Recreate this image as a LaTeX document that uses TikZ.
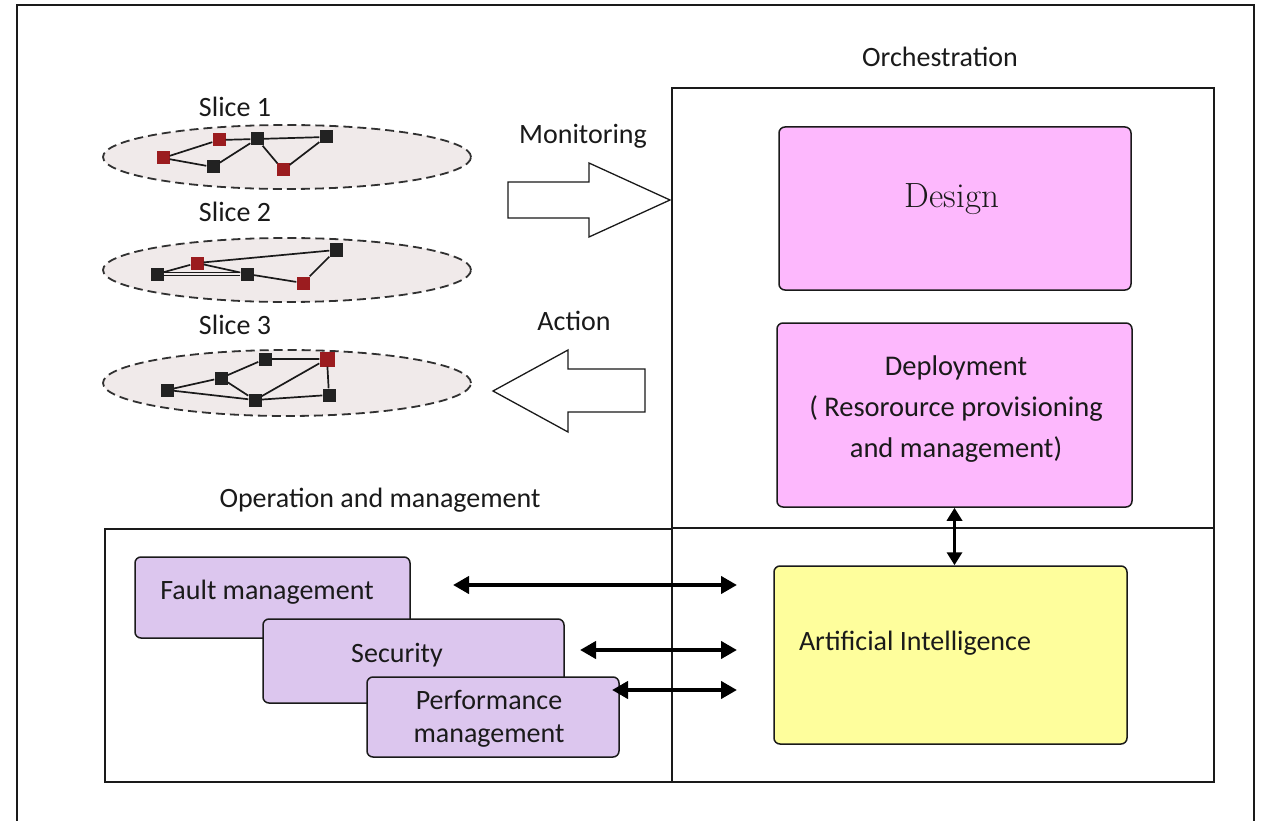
\documentclass[tikz,border=0pt]{standalone}
\usepackage{fontspec}
\newfontfamily\calfont{Carlito}
\usetikzlibrary{arrows.meta,shapes.geometric}
\definecolor{pinkbox}{HTML}{FDB8FD}
\definecolor{yelbox}{HTML}{FEFE9C}
\definecolor{lavbox}{HTML}{DCC6EE}
\definecolor{slicefill}{HTML}{F0EAEA}
\definecolor{redsq}{HTML}{9B1C1F}
\definecolor{blksq}{HTML}{222222}
\definecolor{ink}{HTML}{1A1A1A}
\begin{document}
\begin{tikzpicture}[x=1pt,y=-1pt,
  frame/.style={draw=ink, line width=1.7pt},
  box/.style={draw=ink, line width=1.5pt, rounded corners=6pt, inner sep=0pt},
  lbl/.style={font=\calfont\fontsize{28}{40}\selectfont, text=ink, align=center, inner sep=0pt},
  sliceell/.style={ellipse, draw=ink!90, dash pattern=on 9pt off 5pt, line width=1.8pt, fill=slicefill, inner sep=0pt},
  sq/.style={rectangle, minimum size=13pt, inner sep=0pt},
  rsq/.style={sq, fill=redsq},
  bsq/.style={sq, fill=blksq},
  edge/.style={draw=ink, line width=1.7pt},
  bigarrow/.style={draw=ink, line width=1.3pt, fill=white, line join=miter},
  dbl/.style={draw=black, line width=4pt, {Triangle[length=16pt,width=17pt]}-{Triangle[length=16pt,width=17pt]}}
]
\useasboundingbox (0,0) rectangle (1261,821);
\clip (0,0) rectangle (1261,821);
\fill[white] (0,0) rectangle (1261,821);
% outer frame
\draw[frame] (17,840) -- (17,5) -- (1254,5) -- (1254,840);

% orchestration and operation areas
\node[frame, rectangle, minimum width=542pt, minimum height=694pt, inner sep=0pt] (orch) at (943,435) {};
\node[frame, rectangle, minimum width=567pt, minimum height=253pt, inner sep=0pt] (oper) at (388.5,655.5) {};
\draw[frame] (oper.north east) -- (orch.east |- oper.north);

\node[lbl] (orchlbl) at (940,57) {Orchestration};
\node[lbl] (operlbl) at (380,500) {Operation and management};

% orchestration boxes
\node[box, fill=pinkbox, minimum width=352pt, minimum height=163pt] (design) at (955,208.5) {};
\node[inner sep=0pt, font=\fontsize{35}{40}\selectfont, text=ink] (designtxt) at (952,199) {Design};
\node[box, fill=pinkbox, minimum width=355pt, minimum height=184pt] (deploy) at (954.5,415) {};
\node[lbl, font=\calfont\fontsize{28.5}{41}\selectfont] (deploytxt) at (956,409) {Deployment\\( Resorource provisioning\\and management)};
\node[box, fill=yelbox, minimum width=353pt, minimum height=178pt] (ai) at (950.5,655) {};
\node[lbl] (aitxt) at (915,643) {Artificial Intelligence};
\draw[dbl, {Triangle[length=13pt,width=15pt]}-{Triangle[length=13pt,width=15pt]}, line width=3.5pt] (deploy.south) -- (deploy.south |- ai.north);

% management boxes
\node[box, fill=lavbox, minimum width=275pt, minimum height=81pt] (fault) at (272.5,597.5) {};
\node[lbl] (faulttxt) at (267,592) {Fault management};
\node[box, fill=lavbox, minimum width=301pt, minimum height=84pt] (secur) at (413.5,661) {};
\node[lbl] (secturtxt) at (397,655) {Security};
\node[box, fill=lavbox, minimum width=252pt, minimum height=80pt] (perf) at (493,717) {};
\node[lbl, font=\calfont\fontsize{28}{33}\selectfont] (perftxt) at (489,719) {Performance\\management};

% double arrows
\coordinate (f1) at (453,585); \coordinate (f2) at (737,585);
\coordinate (s1) at (580,650); \coordinate (s2) at (737,650);
\coordinate (p1) at (612,690); \coordinate (p2) at (737,690);
\draw[dbl] (f1) -- (f2);
\draw[dbl] (s1) -- (s2);
\draw[dbl] (p1) -- (p2);

% slices
\node[lbl] (sl1) at (235,107) {Slice 1};
\node[lbl] (sl2) at (235,212) {Slice 2};
\node[lbl] (sl3) at (235,325) {Slice 3};
\node[sliceell, minimum width=368pt, minimum height=64pt] (e1) at (287,157) {};
\node[sliceell, minimum width=368pt, minimum height=64pt] (e2) at (287,270) {};
\node[sliceell, minimum width=368pt, minimum height=66pt] (e3) at (287,383) {};

% slice 1 graph
\node[rsq] (a1) at (163,158) {};
\node[rsq] (b1) at (219,140) {};
\node[bsq] (c1) at (213,167) {};
\node[bsq] (d1) at (257,139) {};
\node[rsq] (g1) at (283,170) {};
\node[bsq] (f1n) at (326,137) {};
\draw[edge] (a1) -- (b1) (a1) -- (c1) (b1) -- (d1) (c1) -- (d1) (d1) -- (f1n) (d1) -- (g1) (g1) -- (f1n);

% slice 2 graph
\node[bsq] (a2) at (157,274) {};
\node[rsq] (b2) at (197,263) {};
\node[bsq] (c2) at (247,274) {};
\node[rsq] (d2) at (303,283) {};
\node[bsq] (e2n) at (336,250) {};
\draw[edge] (a2) -- (b2) (b2) -- (c2) (b2) -- (e2n) (c2) -- (d2) (d2) -- (e2n);
\draw[edge, double=slicefill, double distance=1.2pt, line width=1.2pt] (a2) -- (c2);

% slice 3 graph
\node[bsq] (a3) at (167,390) {};
\node[bsq] (b3) at (221,378) {};
\node[bsq] (c3) at (265,359) {};
\node[rsq, minimum size=15pt] (d3) at (327,359) {};
\node[bsq] (e3n) at (255,400) {};
\node[bsq] (f3) at (329,395) {};
\draw[edge] (a3) -- (b3) (a3) -- (e3n) (b3) -- (c3) (b3) -- (e3n) (c3) -- (d3) (d3) -- (e3n) (d3) -- (f3) (e3n) -- (f3);

% big arrows
\node[lbl] (monlbl) at (583,136) {Monitoring};
\node[lbl] (actlbl) at (574,321) {Action};
\draw[bigarrow] (508,182) -- (589,182) -- (589,163) -- (670,200) -- (589,237) -- (589,218) -- (508,218) -- cycle;
\draw[bigarrow] (645,369) -- (568,369) -- (568,350) -- (493,391) -- (568,432) -- (568,412) -- (645,412) -- cycle;
\end{tikzpicture}
\end{document}
